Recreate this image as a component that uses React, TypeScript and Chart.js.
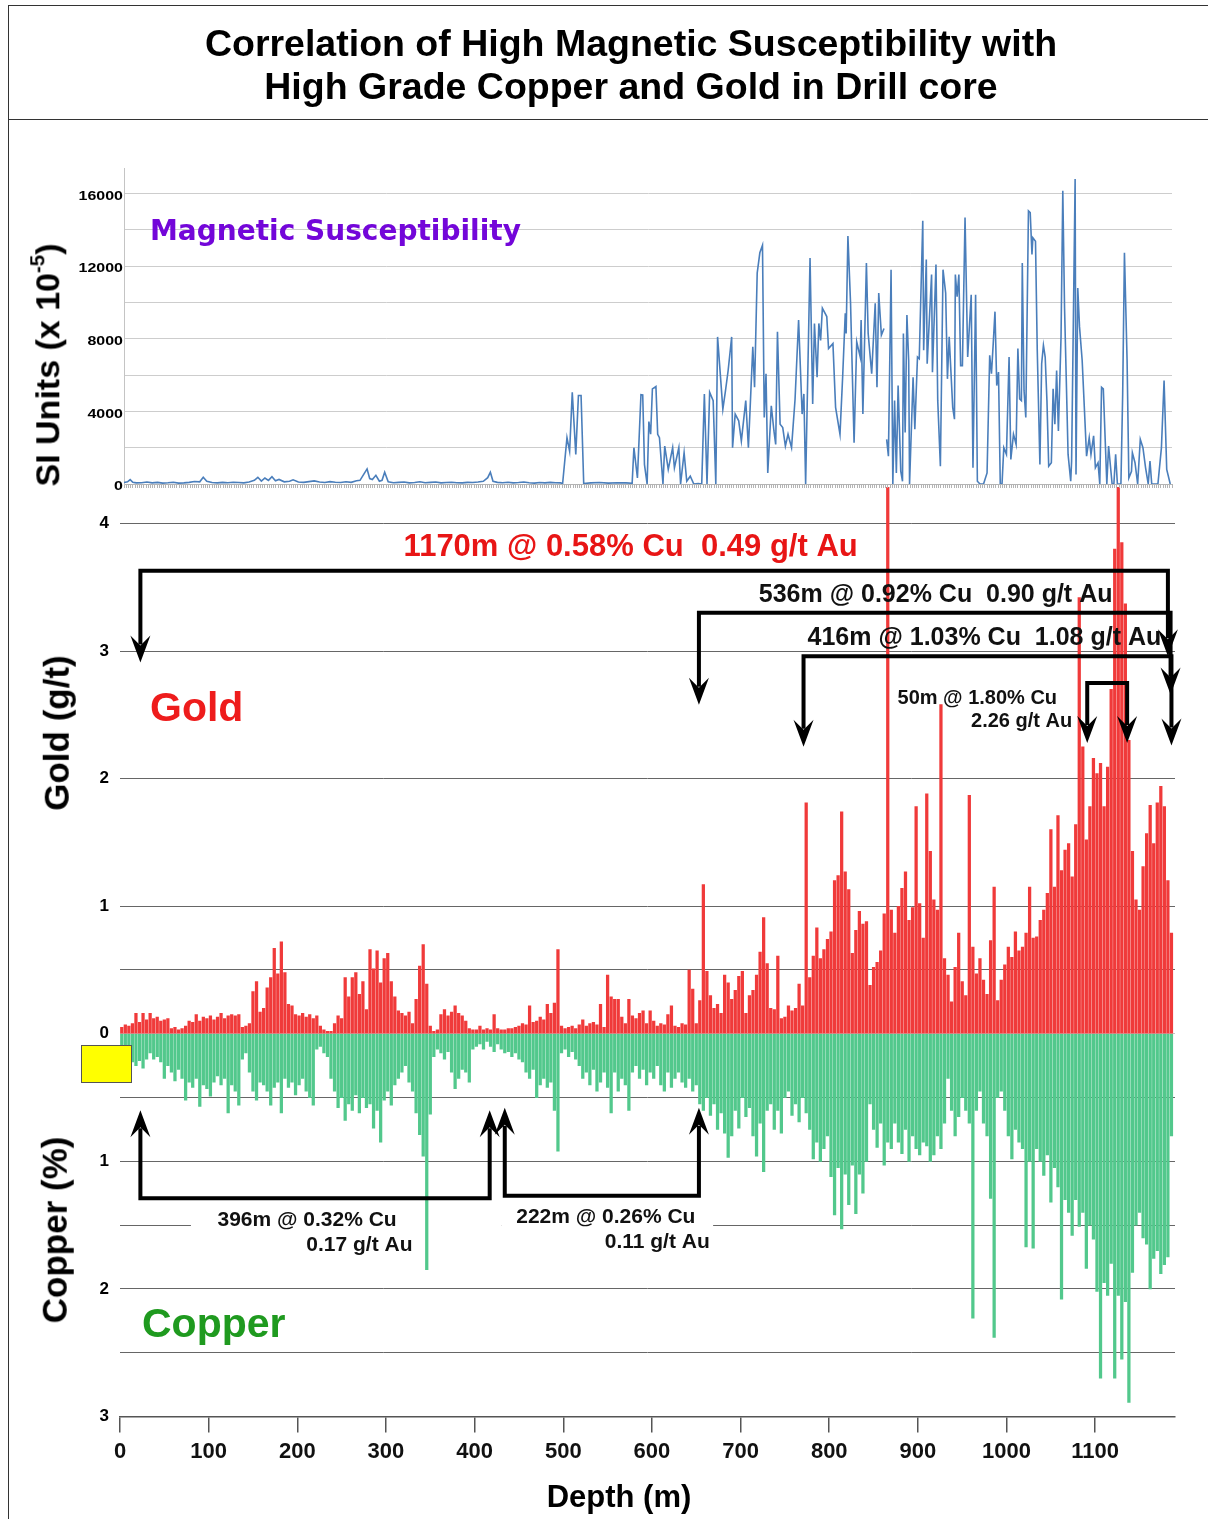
import React, { useEffect, useRef } from 'react';
import { Chart, registerables } from 'chart.js';

Chart.register(...registerables);

const FONT = '"Liberation Sans", Arial, Helvetica, sans-serif';

// ---------- axis ranges / ticks ----------
const DEPTH_MAX = 1190;
const DEPTH_TICKS = [0, 100, 200, 300, 400, 500, 600, 700, 800, 900, 1000, 1100];
const SI_MAX = 17400;
const SI_GRID = [0, 2000, 4000, 6000, 8000, 10000, 12000, 14000, 16000];
const SI_LABELS = [0, 4000, 8000, 12000, 16000];
const GRADE_MIN = -3;
const GRADE_MAX = 4.286;
const GRADE_GRID = [-3, -2.5, -2, -1.5, -1, -0.5, 0, 0.5, 1, 2, 3, 4];

// ---------- assay samples (4 m composites) ----------
const SAMPLE_INTERVAL_M = 4;

// Gold (g/t), one value per 4 m sample from surface
const GOLD_GT = [
  0.05, 0.07, 0.06, 0.08, 0.16, 0.09, 0.16, 0.11, 0.16, 0.12,
  0.13, 0.10, 0.11, 0.12, 0.04, 0.05, 0.03, 0.04, 0.06, 0.10,
  0.09, 0.15, 0.10, 0.13, 0.12, 0.14, 0.11, 0.13, 0.16, 0.12,
  0.14, 0.15, 0.14, 0.15, 0.05, 0.06, 0.08, 0.33, 0.41, 0.17,
  0.20, 0.36, 0.44, 0.67, 0.47, 0.72, 0.48, 0.23, 0.22, 0.15,
  0.14, 0.16, 0.13, 0.15, 0.12, 0.14, 0.06, 0.03, 0.02, 0.02,
  0.08, 0.14, 0.12, 0.44, 0.29, 0.44, 0.48, 0.31, 0.41, 0.19,
  0.66, 0.51, 0.65, 0.40, 0.59, 0.63, 0.41, 0.29, 0.18, 0.16,
  0.14, 0.17, 0.08, 0.27, 0.53, 0.70, 0.39, 0.06, 0.02, 0.03,
  0.15, 0.19, 0.14, 0.17, 0.22, 0.16, 0.14, 0.10, 0.04, 0.03,
  0.03, 0.06, 0.03, 0.04, 0.03, 0.15, 0.04, 0.03, 0.03, 0.04,
  0.04, 0.05, 0.06, 0.08, 0.07, 0.22, 0.09, 0.10, 0.13, 0.11,
  0.23, 0.16, 0.24, 0.66, 0.06, 0.04, 0.05, 0.06, 0.04, 0.07,
  0.11, 0.06, 0.08, 0.09, 0.07, 0.23, 0.05, 0.46, 0.29, 0.27,
  0.27, 0.13, 0.08, 0.27, 0.14, 0.12, 0.16, 0.18, 0.08, 0.18,
  0.10, 0.06, 0.08, 0.07, 0.15, 0.22, 0.06, 0.05, 0.08, 0.07,
  0.50, 0.35, 0.08, 0.26, 1.17, 0.49, 0.30, 0.20, 0.23, 0.16,
  0.46, 0.40, 0.27, 0.34, 0.45, 0.49, 0.16, 0.30, 0.34, 0.46,
  0.64, 0.91, 0.55, 0.20, 0.19, 0.61, 0.12, 0.13, 0.22, 0.18,
  0.20, 0.39, 0.22, 1.81, 0.44, 0.61, 0.83, 0.59, 0.66, 0.74,
  0.80, 1.20, 1.24, 1.74, 1.27, 1.13, 0.63, 0.81, 0.96, 0.86,
  0.88, 0.38, 0.52, 0.56, 0.65, 0.94, 4.60, 0.97, 0.79, 1.00,
  1.14, 1.27, 0.89, 0.99, 1.78, 1.02, 0.75, 1.88, 1.43, 1.05,
  0.97, 2.58, 0.59, 0.46, 0.25, 0.52, 0.79, 0.41, 0.30, 1.87,
  0.68, 0.47, 0.59, 0.42, 0.31, 0.73, 1.15, 0.26, 0.42, 0.54,
  0.68, 0.60, 0.80, 0.65, 0.68, 0.79, 1.15, 0.75, 0.76, 0.89,
  0.97, 1.10, 1.60, 1.15, 1.71, 1.28, 1.44, 1.49, 1.23, 1.64,
  3.42, 2.25, 1.52, 1.78, 2.16, 2.04, 2.12, 1.78, 2.09, 2.70,
  3.80, 4.60, 3.85, 3.37, 2.30, 1.43, 1.05, 0.97, 1.31, 1.57,
  1.79, 1.49, 1.81, 1.94, 1.78, 1.20, 0.79,
];

// Copper (%), same samples (plotted downward)
const COPPER_PCT = [
  0.15, 0.20, 0.18, 0.22, 0.25, 0.21, 0.27, 0.20, 0.15, 0.20,
  0.18, 0.22, 0.35, 0.25, 0.30, 0.37, 0.28, 0.35, 0.52, 0.38,
  0.42, 0.35, 0.57, 0.40, 0.43, 0.49, 0.38, 0.33, 0.40, 0.35,
  0.62, 0.40, 0.45, 0.56, 0.20, 0.15, 0.30, 0.45, 0.52, 0.38,
  0.40, 0.45, 0.56, 0.42, 0.38, 0.62, 0.35, 0.42, 0.38, 0.48,
  0.40, 0.35, 0.45, 0.50, 0.56, 0.12, 0.10, 0.15, 0.18, 0.35,
  0.45, 0.58, 0.50, 0.68, 0.55, 0.60, 0.48, 0.62, 0.50, 0.58,
  0.55, 0.74, 0.60, 0.85, 0.52, 0.45, 0.56, 0.40, 0.35, 0.30,
  0.25, 0.38, 0.45, 0.62, 0.79, 0.96, 1.85, 0.63, 0.18, 0.12,
  0.15, 0.20, 0.14, 0.30, 0.43, 0.35, 0.28, 0.30, 0.38, 0.12,
  0.10, 0.08, 0.12, 0.06, 0.10, 0.14, 0.08, 0.12, 0.15, 0.14,
  0.18, 0.15, 0.20, 0.22, 0.30, 0.35, 0.28, 0.50, 0.40, 0.35,
  0.42, 0.38, 0.60, 0.92, 0.15, 0.12, 0.18, 0.14, 0.20, 0.25,
  0.35, 0.30, 0.40, 0.28, 0.45, 0.38, 0.30, 0.42, 0.62, 0.30,
  0.45, 0.35, 0.40, 0.60, 0.30, 0.25, 0.35, 0.28, 0.40, 0.30,
  0.35, 0.25, 0.40, 0.45, 0.30, 0.42, 0.35, 0.30, 0.38, 0.42,
  0.35, 0.45, 0.40, 0.55, 0.60, 0.50, 0.64, 0.55, 0.75, 0.62,
  0.78, 0.97, 0.80, 0.60, 0.74, 0.50, 0.65, 0.58, 0.80, 0.96,
  0.70, 1.08, 0.60, 0.55, 0.75, 0.60, 0.78, 0.50, 0.45, 0.64,
  0.55, 0.69, 0.50, 0.62, 0.75, 0.98, 0.85, 1.00, 0.90, 0.80,
  1.12, 1.42, 1.05, 1.53, 1.10, 1.34, 1.03, 1.41, 1.10, 1.25,
  1.00, 0.55, 0.75, 0.89, 0.70, 1.03, 0.85, 0.90, 0.70, 0.85,
  0.94, 0.75, 1.00, 0.80, 0.90, 0.95, 0.85, 0.88, 1.00, 0.95,
  0.80, 0.90, 0.70, 0.35, 0.60, 0.80, 0.65, 0.50, 0.60, 0.70,
  2.23, 0.60, 0.45, 0.70, 0.80, 1.29, 2.38, 0.50, 0.45, 0.60,
  0.80, 0.98, 0.75, 0.85, 0.90, 1.67, 1.00, 1.68, 0.90, 1.00,
  1.11, 0.95, 1.32, 1.05, 1.20, 2.08, 1.30, 1.40, 1.58, 1.30,
  1.51, 1.40, 1.84, 1.50, 1.61, 2.02, 2.70, 1.95, 2.05, 1.80,
  2.70, 2.05, 2.55, 2.10, 2.89, 1.87, 1.50, 1.40, 1.60, 1.65,
  2.00, 1.76, 1.70, 1.88, 1.81, 1.75, 0.80,
];

const SAMPLE_DEPTHS = GOLD_GT.map((_, i) => SAMPLE_INTERVAL_M * i + SAMPLE_INTERVAL_M / 2);

// ---------- magnetic susceptibility readings ----------
const MAG_DEPTH = [
  0, 4, 7, 10, 14, 20, 26, 32, 38, 44,
  50, 56, 62, 68, 74, 80, 86, 90, 94, 100,
  106, 112, 118, 124, 130, 136, 142, 148, 152, 156,
  160, 164, 168, 172, 176, 182, 188, 192, 198, 204,
  210, 216, 222, 228, 234, 240, 246, 252, 258, 264,
  268, 272, 276, 279, 282, 286, 290, 293, 296, 300,
  306, 312, 318, 324, 330, 336, 342, 348, 354, 360,
  366, 372, 378, 384, 390, 396, 402, 408, 413, 416,
  419, 424, 430, 436, 442, 448, 454, 460, 466, 472,
  478, 484, 490, 496,
  498, 503, 506, 509, 513, 516, 519, 522, 530, 540,
  550, 560, 570, 577, 579, 583, 587, 589, 591, 594,
  596, 598, 600, 604, 606, 608, 612, 614, 618, 623,
  625, 630, 632, 636, 639, 643, 647, 652, 656, 659,
  662, 665, 669, 672, 674, 680, 683, 686, 690, 691,
  694, 698, 701, 706, 709, 714, 716, 719, 722, 725,
  727, 729, 731, 735, 738, 740, 742, 745, 748, 751,
  754, 758, 762, 766, 770, 772, 774, 779, 782, 784,
  787, 789, 791, 793, 798, 800, 805, 808, 813, 816,
  819, 820, 822, 825, 829, 832, 836, 837, 839, 843,
  845, 849, 853, 855, 857, 860, 863, 865, 866, 868,
  871, 873, 875, 877, 879, 882, 884, 885, 887, 889,
  891, 892, 896, 898, 901, 903, 907, 908, 911, 912,
  917, 918, 922, 924, 927, 930, 933, 935, 937, 941,
  943, 944, 946, 948, 950, 952, 955, 958, 962, 964,
  967, 969, 972, 976, 980, 983, 985, 987, 989, 991,
  993, 995, 997, 999, 1002, 1005, 1007, 1010, 1013, 1015,
  1017, 1019, 1020, 1022, 1024, 1027, 1029, 1031, 1032, 1035,
  1037, 1040, 1042, 1044, 1046, 1048, 1050, 1053, 1055, 1057,
  1059, 1061, 1064, 1066, 1068, 1072, 1075, 1076, 1080, 1081,
  1083, 1085, 1088, 1093, 1096, 1098, 1101, 1103, 1106, 1108,
  1110, 1112, 1116, 1118, 1122, 1124, 1126, 1128, 1132, 1134,
  1136, 1139, 1141, 1144, 1145, 1148, 1151, 1154, 1157, 1160,
  1163, 1165, 1167, 1174, 1178, 1181, 1184, 1188,
];

const MAG_SI = [
  80, 120, 240, 90, 60, 70, 110, 60, 90, 50,
  70, 100, 50, 60, 90, 140, 120, 370, 150, 80,
  60, 90, 70, 100, 80, 60, 110, 200, 370, 160,
  330, 200, 400, 180, 250, 120, 150, 230, 110, 90,
  130, 170, 110, 80, 130, 100, 80, 120, 90, 180,
  200, 520, 830, 300, 250, 480, 150, 200, 650, 120,
  70, 90, 110, 60, 80, 120, 70, 90, 110, 60,
  80, 100, 70, 60, 90, 80, 110, 150, 350, 650,
  150, 90, 70, 100, 60, 80, 110, 70, 50, 80,
  60, 90, 70, 60,
  0, 2550, 1800, 5050, 1630, 4870, 4870, 30, 60, 80,
  50, 70, 60, 40, 2000, 330, 4920, 4900, 1070, 0,
  3440, 2740, 5240, 5370, 2740, 2550, 0, 2090, 800, 2000,
  890, 2000, 0, 1720, 150, 430, 0, 30, 0, 4960,
  0, 5050, 4590, 0, 8100, 4120, 5140, 6250, 8100, 2000,
  3850, 3480, 2370, 4590, 2000, 7550, 5330, 11620, 12730, 13140,
  3660, 6070, 610, 4310, 2920, 2180, 8380, 3290, 3110, 2090,
  2740, 2000, 4680, 9030, 3850, 4960, 0, 12450, 4400, 8840,
  5880, 8840, 7910, 9680, 9220, 7460, 7730, 4220, 2740, 5880,
  9400, 8290, 13650, 9950, 2270, 7830, 6990, 9030, 3850, 12170,
  8290, 6070, 9950, 5330, 10510, 8200, 8560, null, 2460, 1530,
  11800, 0, 4590, 610, 5420, 700, 150, 8290, 2830, 9310,
  6800, 0, 5880, 3020, 6990, 6900, 14490, 7360, 12360, 6620,
  11530, 6160, 12080, 4590, 980, 11800, 10510, 5790, 8100, 4220,
  3570, 11530, 10320, 11530, 6520, 6520, 14670, 6990, 10420, 890,
  10420, 150, 0, 0, 610, 7090, 6070, 7730, 9490, 5420,
  6160, 0, 0, 2000, 1630, 6990, 1350, 2740, 2180, 7460,
  4680, 4590, 12170, 5140, 3660, 15040, 14950, 12640, 13560, 13370,
  7360, 1070, 6620, 7640, 6990, 4590, 980, 1170, 5240, 3290,
  6250, 2920, 8100, 16150, 9680, 1630, 150, 1260, 16800, 520,
  10790, 8650, 6800, 1530, 2550, 1630, 2650, 890, 1170, 0,
  5330, 5240, 0, 2090, 0, 0, 1630, 0, 0, 4960,
  12730, 6800, 330, 700, 1720, 1170, 0, 2460, 2000, 890,
  0, 1260, 0, 0, 2000, 5700, 800, 0,
];

// ---------- annotations (depth m, grade) ----------
const GOLD_BRACKETS = [
  { from: 23, to: 1182, line: 3.63, tipFrom: 2.91, tipTo: 2.96 },
  { from: 653, to: 1185, line: 3.30, tipFrom: 2.58, tipTo: 2.66 },
  { from: 771, to: 1186, line: 2.96, tipFrom: 2.25, tipTo: 2.26 },
  { from: 1091, to: 1136, line: 2.75, tipFrom: 2.28, tipTo: 2.28 },
];
const COPPER_BRACKETS = [
  { from: 23, to: 417, line: -1.29, tipFrom: -0.6, tipTo: -0.6 },
  { from: 434, to: 653, line: -1.27, tipFrom: -0.58, tipTo: -0.58 },
];
const WHITE_BOXES = [
  { from: 80, to: 430, top: -1.36, bottom: -1.78 },
  { from: 430, to: 669, top: -1.34, bottom: -1.76 },
];
const INTERVAL_LABELS = [
  { text: '1170m @ 0.58% Cu  0.49 g/t Au', x: 576, y: 3.81, size: 31, color: '#e81515' },
  { text: '536m @ 0.92% Cu  0.90 g/t Au', x: 920, y: 3.44, size: 25, color: '#111' },
  { text: '416m @ 1.03% Cu  1.08 g/t Au', x: 975, y: 3.1, size: 25, color: '#111' },
  { text: '50m @ 1.80% Cu', x: 967, y: 2.63, size: 20, color: '#111' },
  { text: '2.26 g/t Au', x: 1017, y: 2.45, size: 20, color: '#111' },
  { text: '396m @ 0.32% Cu', x: 211, y: -1.46, size: 21, color: '#111' },
  { text: '0.17 g/t Au', x: 270, y: -1.66, size: 21, color: '#111' },
  { text: '222m @ 0.26% Cu', x: 548, y: -1.44, size: 21, color: '#111' },
  { text: '0.11 g/t Au', x: 606, y: -1.63, size: 21, color: '#111' },
];

function arrowHead(ctx: CanvasRenderingContext2D, x: number, tip: number, dir: number) {
  ctx.beginPath();
  ctx.moveTo(x, tip);
  ctx.lineTo(x - 10, tip - dir * 27);
  ctx.lineTo(x, tip - dir * 17);
  ctx.lineTo(x + 10, tip - dir * 27);
  ctx.closePath();
  ctx.fill();
}

function drawBracket(ctx: CanvasRenderingContext2D, xs: any, ys: any, b: any, dir: number) {
  const x1 = xs.getPixelForValue(b.from);
  const x2 = xs.getPixelForValue(b.to);
  const yl = ys.getPixelForValue(b.line);
  const t1 = ys.getPixelForValue(b.tipFrom);
  const t2 = ys.getPixelForValue(b.tipTo);
  ctx.lineWidth = 4;
  ctx.strokeStyle = '#000';
  ctx.fillStyle = '#000';
  ctx.lineJoin = 'miter';
  ctx.lineCap = 'butt';
  ctx.beginPath();
  ctx.moveTo(x1, t1 - dir * 18);
  ctx.lineTo(x1, yl);
  ctx.lineTo(x2, yl);
  ctx.lineTo(x2, t2 - dir * 18);
  ctx.stroke();
  arrowHead(ctx, x1, t1, dir);
  arrowHead(ctx, x2, t2, dir);
}

const gradeAnnotations = {
  id: 'gradeAnnotations',
  beforeDatasetsDraw(chart: any) {
    const { ctx } = chart;
    const xs = chart.scales.x;
    const ys = chart.scales.y;
    ctx.save();
    ctx.fillStyle = '#fff';
    for (const b of WHITE_BOXES) {
      const x1 = xs.getPixelForValue(b.from);
      const x2 = xs.getPixelForValue(b.to);
      const y1 = ys.getPixelForValue(b.top);
      const y2 = ys.getPixelForValue(b.bottom);
      ctx.fillRect(x1, y1, x2 - x1, y2 - y1);
    }
    ctx.restore();
  },
  afterDatasetsDraw(chart: any) {
    const { ctx } = chart;
    const xs = chart.scales.x;
    const ys = chart.scales.y;
    ctx.save();
    for (const b of GOLD_BRACKETS) drawBracket(ctx, xs, ys, b, 1);
    for (const b of COPPER_BRACKETS) drawBracket(ctx, xs, ys, b, -1);
    ctx.textAlign = 'center';
    ctx.textBaseline = 'middle';
    for (const l of INTERVAL_LABELS) {
      ctx.font = `bold ${l.size}px ${FONT}`;
      ctx.fillStyle = l.color;
      ctx.fillText(l.text, xs.getPixelForValue(l.x), ys.getPixelForValue(l.y));
    }
    ctx.restore();
  },
};

const siLabels = {
  id: 'siLabels',
  afterDraw(chart: any) {
    const { ctx } = chart;
    const ys = chart.scales.y;
    ctx.save();
    ctx.font = `bold 12px ${FONT}`;
    ctx.fillStyle = '#000';
    ctx.textAlign = 'right';
    ctx.textBaseline = 'middle';
    for (const v of SI_LABELS) {
      ctx.save();
      ctx.translate(chart.chartArea.left - 1, ys.getPixelForValue(v) + 3);
      ctx.scale(1.33, 1);
      ctx.fillText(String(v), 0, 0);
      ctx.restore();
    }
    ctx.restore();
  },
};

function noPadding(s: any) {
  s.paddingTop = 0;
  s.paddingBottom = 0;
  s.paddingLeft = 0;
  s.paddingRight = 0;
}

function VLabel(props: any) {
  return (
    <div
      style={{
        position: 'absolute',
        left: props.cx,
        top: props.cy,
        transform: 'translate(-50%, -50%) rotate(-90deg)',
        whiteSpace: 'nowrap',
        font: `bold ${props.size}px/1.1 ${FONT}`,
        color: '#000',
      }}
    >
      {props.children}
    </div>
  );
}

export default function App() {
  const topRef = useRef<HTMLCanvasElement>(null);
  const botRef = useRef<HTMLCanvasElement>(null);

  useEffect(() => {
    document.body.style.margin = '0';
    const top = new Chart(topRef.current as HTMLCanvasElement, {
      type: 'line',
      data: {
        datasets: [
          {
            data: MAG_DEPTH.map((d, i) => ({ x: d, y: MAG_SI[i] })),
            borderColor: '#4a7ebb',
            borderWidth: 1.6,
            pointRadius: 0,
            tension: 0,
            fill: false,
            spanGaps: false,
          },
        ],
      },
      options: {
        animation: false,
        responsive: false,
        events: [],
        layout: { padding: { left: 0, right: 36, top: 168, bottom: 0 } },
        plugins: { legend: { display: false }, tooltip: { enabled: false } },
        scales: {
          x: {
            type: 'linear',
            min: 0,
            max: DEPTH_MAX,
            afterBuildTicks: (s: any) => {
              const t = [];
              for (let v = 0; v <= DEPTH_MAX; v += 2.5) t.push({ value: v });
              s.ticks = t;
            },
            afterFit: (s: any) => { s.height = 16; noPadding(s); },
            ticks: { display: false },
            grid: { drawOnChartArea: false, tickLength: 4, color: '#b4b4b4', lineWidth: 1 },
            border: { color: '#b4b4b4' },
          },
          y: {
            min: 0,
            max: SI_MAX,
            afterBuildTicks: (s: any) => { s.ticks = SI_GRID.map((v) => ({ value: v })); },
            afterFit: (s: any) => { s.width = 124; noPadding(s); },
            ticks: { display: false },
            grid: { color: '#cdcdcd', drawTicks: false, lineWidth: 1 },
            border: { color: '#c4c4c4' },
          },
        },
      } as any,
      plugins: [siLabels],
    } as any);

    const bot = new Chart(botRef.current as HTMLCanvasElement, {
      type: 'bar',
      data: {
        datasets: [
          {
            label: 'Gold',
            data: SAMPLE_DEPTHS.map((d, i) => ({ x: d, y: GOLD_GT[i] })),
            backgroundColor: '#f03a3a',
            barThickness: 2.6,
            grouped: false,
          },
          {
            label: 'Copper',
            data: SAMPLE_DEPTHS.map((d, i) => ({ x: d, y: -COPPER_PCT[i] })),
            backgroundColor: '#52c88c',
            barThickness: 2.6,
            grouped: false,
          },
        ],
      },
      options: {
        animation: false,
        responsive: false,
        events: [],
        layout: { padding: { left: 0, right: 33, top: 7, bottom: 0 } },
        plugins: { legend: { display: false }, tooltip: { enabled: false } },
        scales: {
          x: {
            type: 'linear',
            min: 0,
            max: DEPTH_MAX,
            offset: false,
            afterBuildTicks: (s: any) => { s.ticks = DEPTH_TICKS.map((v) => ({ value: v })); },
            afterFit: (s: any) => { s.height = 102.5; noPadding(s); },
            ticks: {
              font: { family: FONT, size: 22, weight: 'bold' },
              color: '#111',
              padding: 6,
              maxRotation: 0,
              autoSkip: false,
              callback: (v: any) => String(v),
            },
            grid: { drawOnChartArea: false, offset: false, tickLength: 16, color: '#555', lineWidth: 1.5 },
            border: { color: '#555', width: 1.5 },
          },
          y: {
            min: GRADE_MIN,
            max: GRADE_MAX,
            afterBuildTicks: (s: any) => { s.ticks = GRADE_GRID.map((v) => ({ value: v })); },
            afterFit: (s: any) => { s.width = 120; noPadding(s); },
            ticks: {
              font: { family: FONT, size: 17, weight: 'bold' },
              color: '#000',
              padding: 11,
              autoSkip: false,
              callback: (v: any) => (Number.isInteger(v) ? String(Math.abs(v)) : ''),
            },
            grid: {
              drawTicks: false,
              color: (c: any) => (c.tick && c.tick.value === 0 ? '#c4c4c4' : '#666'),
              lineWidth: 1,
            },
            border: { display: false },
          },
        },
      } as any,
      plugins: [gradeAnnotations],
    } as any);

    return () => {
      top.destroy();
      bot.destroy();
    };
  }, []);

  return (
    <div
      style={{
        position: 'relative',
        width: 1208,
        height: 1519,
        background: '#fff',
        overflow: 'hidden',
        fontFamily: FONT,
      }}
    >
      <canvas ref={botRef} width={1208} height={1039} style={{ position: 'absolute', left: 0, top: 480 }} />
      <canvas ref={topRef} width={1208} height={500} style={{ position: 'absolute', left: 0, top: 0 }} />

      <div style={{ position: 'absolute', left: 8, top: 5, width: 1200, height: 115, borderTop: '1px solid #333', borderBottom: '1px solid #333', boxSizing: 'border-box' }} />
      <div style={{ position: 'absolute', left: 8, top: 5, width: 0, height: 1514, borderLeft: '1px solid #333' }} />
      <div
        style={{
          position: 'absolute',
          left: 131,
          top: 22,
          width: 1000,
          textAlign: 'center',
          font: `bold 37.5px/43px ${FONT}`,
          color: '#000',
        }}
      >
        Correlation of High Magnetic Susceptibility with
        <br />
        High Grade Copper and Gold in Drill core
      </div>

      <div
        style={{
          position: 'absolute',
          left: 150,
          top: 231,
          transform: 'translateY(-50%)',
          whiteSpace: 'nowrap',
          font: `bold 28px/1 "DejaVu Sans", ${FONT}`,
          color: '#7306d9',
        }}
      >
        Magnetic Susceptibility
      </div>

      <VLabel cx={48} cy={365} size={34}>
        SI Units (x 10
        <span style={{ fontSize: '0.6em', position: 'relative', top: '-0.75em' }}>-5</span>)
      </VLabel>
      <VLabel cx={57} cy={733} size={35}>Gold (g/t)</VLabel>
      <VLabel cx={55} cy={1230} size={35}>Copper (%)</VLabel>

      <div style={{ position: 'absolute', left: 150, top: 707, transform: 'translateY(-50%)', font: `bold 41px/1 ${FONT}`, color: '#ee1c1c', whiteSpace: 'nowrap' }}>
        Gold
      </div>
      <div style={{ position: 'absolute', left: 142, top: 1323, transform: 'translateY(-50%)', font: `bold 41px/1 ${FONT}`, color: '#1f9a1f', whiteSpace: 'nowrap' }}>
        Copper
      </div>

      <div style={{ position: 'absolute', left: 619, top: 1496, transform: 'translate(-50%, -50%)', font: `bold 31px/1 ${FONT}`, color: '#000', whiteSpace: 'nowrap' }}>
        Depth (m)
      </div>

      <div style={{ position: 'absolute', left: 81, top: 1045, width: 51, height: 38, background: '#ffff00', border: '1px solid #555', boxSizing: 'border-box' }} />
    </div>
  );
}
